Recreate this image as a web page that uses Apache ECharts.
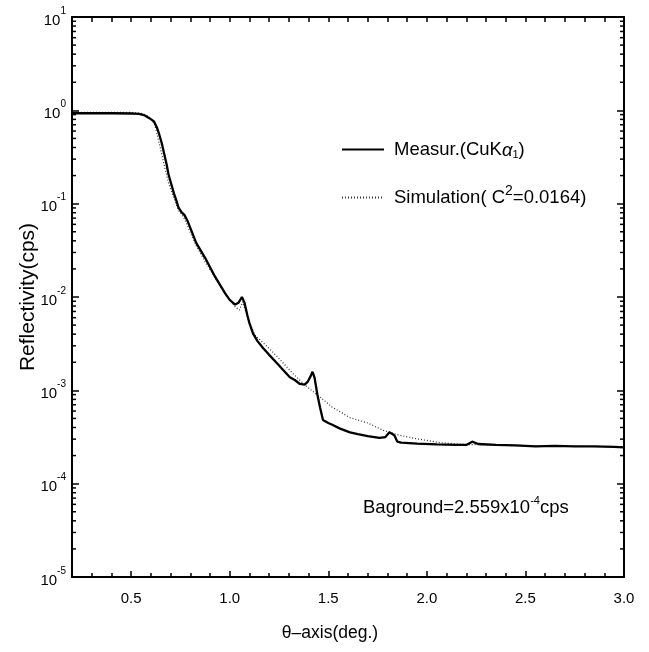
<!DOCTYPE html>
<html>
<head>
<meta charset="utf-8">
<script src="https://cdn.jsdelivr.net/npm/echarts@6/dist/echarts.min.js"></script>
<style>html,body{margin:0;padding:0;background:#fff}#c{width:649px;height:652px}</style>
</head>
<body>
<div id="c"></div>
<script>
// ---- data ----
const thetaMeas = [0.20,0.30,0.40,0.50,0.54,0.565,0.59,0.605,0.616,0.63,0.64,0.655,0.667,0.68,0.69,0.705,0.717,0.73,0.74,0.755,0.77,0.785,0.80,0.83,0.875,0.925,0.976,1.00,1.027,1.045,1.062,1.075,1.09,1.10,1.118,1.14,1.17,1.20,1.24,1.27,1.305,1.33,1.356,1.38,1.395,1.41,1.42,1.43,1.445,1.458,1.473,1.50,1.52,1.56,1.61,1.65,1.70,1.76,1.79,1.81,1.82,1.835,1.85,1.87,1.95,2.05,2.15,2.20,2.23,2.26,2.35,2.45,2.55,2.65,2.75,2.85,2.95,3.00];
const reflMeas = [0.93,0.93,0.93,0.925,0.915,0.89,0.83,0.79,0.76,0.66,0.575,0.447,0.347,0.263,0.204,0.158,0.129,0.107,0.0912,0.0813,0.0759,0.0661,0.055,0.038,0.0263,0.0166,0.011,0.0093,0.0083,0.0087,0.0100,0.0087,0.0063,0.00525,0.00407,0.00339,0.00282,0.0024,0.00195,0.00166,0.00138,0.00129,0.00117,0.00115,0.00123,0.00141,0.00158,0.00138,0.00089,0.00066,0.00048,0.000447,0.000427,0.000389,0.000355,0.000339,0.000324,0.000309,0.000316,0.000355,0.000372,0.000331,0.000282,0.000275,0.000269,0.000263,0.00026,0.00026,0.000282,0.000266,0.00026,0.000257,0.000251,0.000254,0.000251,0.000251,0.000248,0.000245];

const thetaSim = [0.20,0.30,0.40,0.50,0.55,0.58,0.60,0.62,0.635,0.65,0.667,0.69,0.72,0.74,0.755,0.77,0.80,0.83,0.875,0.93,0.98,1.03,1.05,1.065,1.08,1.10,1.128,1.19,1.255,1.32,1.39,1.458,1.52,1.61,1.70,1.78,1.86,1.95,2.07,2.20,2.50,3.00];
const reflSim = [0.95,0.95,0.95,0.95,0.93,0.88,0.82,0.70,0.52,0.38,0.263,0.166,0.11,0.085,0.0776,0.069,0.049,0.0355,0.024,0.0155,0.0107,0.00776,0.00724,0.0089,0.0071,0.0054,0.0039,0.00295,0.00214,0.00151,0.0011,0.00085,0.00066,0.00051,0.000447,0.000372,0.000331,0.000302,0.000275,0.000263,0.000254,0.000248];

const xMajorTicks = [0.5,1.0,1.5,2.0,2.5,3.0];
const xMinorTicks = [0.3,0.4,0.6,0.7,0.8,0.9,1.1,1.2,1.3,1.4,1.6,1.7,1.8,1.9,2.1,2.2,2.3,2.4,2.6,2.7,2.8,2.9];
const xTopTicks = [0.3,0.4,0.5,0.6,0.7,0.8,0.9,1.0,1.1,1.2,1.3,1.4,1.5,1.6,1.7,1.8,1.9,2.0,2.1,2.2,2.3,2.4,2.5,2.6,2.7,2.8,2.9];
const yDecades = [1e-5,1e-4,1e-3,1e-2,1e-1,1,10];
const yMinorMantissa = [2,3,4,5,6,7,8,9];

const X_MIN = 0.2, X_MAX = 3.0;
const FONT = '"Liberation Sans",Arial,sans-serif';

const yMinorTicks = [];
for (let i = 0; i < yDecades.length - 1; i++) {
  yMinorMantissa.forEach(m => yMinorTicks.push(m * yDecades[i]));
}

const names = { meas: 'Measur.(CuKα1)', sim: 'Simulation( C2=0.0164)' };
const legendRich = {};
legendRich[names.meas] = 'Measur.(CuK{it|α}{sub|1})';
legendRich[names.sim] = 'Simulation( C{sup|2}=0.0164)';

const chart = echarts.init(document.getElementById('c'), null, {renderer: 'canvas'});

const xBase = {
  type: 'value', min: X_MIN, max: X_MAX, gridIndex: 0,
  splitLine: {show: false},
  axisLine: {onZero: false, lineStyle: {color: '#000', width: 2}}
};

chart.setOption({
  animation: false,
  backgroundColor: '#fff',
  grid: {left: 72, right: 25, top: 17, bottom: 75, containLabel: false},
  legend: {
    left: 341, top: 140, orient: 'vertical', padding: 0,
    itemWidth: 42, itemHeight: 14, itemGap: 24,
    itemStyle: {opacity: 0},
    data: [names.meas, names.sim],
    formatter: n => legendRich[n],
    textStyle: {
      fontFamily: FONT, fontSize: 18.5, color: '#000', padding: [0, 0, 0, 5],
      rich: {
        it: {fontFamily: FONT, fontSize: 18.5, fontStyle: 'italic', color: '#000', verticalAlign: 'bottom', lineHeight: 22},
        sub: {fontFamily: FONT, fontSize: 11, color: '#000', verticalAlign: 'bottom', lineHeight: 18},
        sup: {fontFamily: FONT, fontSize: 14, color: '#000', verticalAlign: 'top', lineHeight: 26}
      }
    }
  },
  xAxis: [
    Object.assign({}, xBase, {
      position: 'bottom',
      name: 'θ–axis(deg.)', nameLocation: 'middle', nameGap: 47, nameMoveOverlap: false,
      nameTextStyle: {fontFamily: FONT, fontSize: 17.5, color: '#000', padding: [0, 36, 0, 0]},
      axisTick: {inside: true, length: 6, customValues: xMajorTicks, lineStyle: {color: '#000', width: 1.5}},
      axisLabel: {customValues: xMajorTicks, margin: 14, fontFamily: FONT, fontSize: 15, color: '#000',
                  formatter: v => v.toFixed(1)}
    }),
    Object.assign({}, xBase, {
      position: 'bottom',
      axisLine: {show: false, onZero: false},
      axisTick: {inside: true, length: 4, customValues: xMinorTicks, lineStyle: {color: '#000', width: 1.5}},
      axisLabel: {show: false}
    }),
    Object.assign({}, xBase, {
      position: 'top',
      axisTick: {inside: true, length: 5, customValues: xTopTicks, lineStyle: {color: '#000', width: 1.5}},
      axisLabel: {show: false}
    })
  ],
  yAxis: [
    {
      type: 'log', logBase: 10, min: 1e-5, max: 10, interval: 1, position: 'left',
      name: 'Reflectivity(cps)', nameLocation: 'middle', nameGap: 33, nameRotate: 90, nameMoveOverlap: false,
      nameTextStyle: {fontFamily: FONT, fontSize: 21, color: '#000'},
      splitLine: {show: false},
      axisLine: {onZero: false, lineStyle: {color: '#000', width: 2}},
      axisTick: {inside: true, length: 7, lineStyle: {color: '#000', width: 1.5}},
      axisLabel: {
        margin: 6, color: '#000',
        formatter: v => '{b|10}{s|' + Math.round(Math.log10(v)) + '}',
        rich: {
          b: {fontFamily: FONT, fontSize: 15, color: '#000', verticalAlign: 'bottom', lineHeight: 22},
          s: {fontFamily: FONT, fontSize: 10, color: '#000', verticalAlign: 'top', lineHeight: 22}
        }
      }
    },
    {
      type: 'log', logBase: 10, min: 1e-5, max: 10, interval: 1, position: 'right',
      splitLine: {show: false},
      axisLine: {onZero: false, lineStyle: {color: '#000', width: 2}},
      axisTick: {inside: true, length: 7, lineStyle: {color: '#000', width: 1.5}},
      axisLabel: {show: false}
    }
  ],
  graphic: [{
    type: 'text', left: 363, top: 495,
    style: {
      text: 'Baground=2.559x10{s|-4}cps',
      font: '18.5px ' + FONT, fill: '#000',
      rich: {s: {fontFamily: FONT, fontSize: 11, fill: '#000', verticalAlign: 'top', lineHeight: 26}}
    }
  }],
  series: [
    {
      name: names.sim, type: 'line', xAxisIndex: 0, yAxisIndex: 0,
      data: thetaSim.map((t, i) => [t, reflSim[i]]),
      showSymbol: false, symbol: 'none', silent: true,
      lineStyle: {color: '#333', width: 1.2, type: [1, 2]}, itemStyle: {color: '#333'}
    },
    {
      name: names.meas, type: 'line', xAxisIndex: 0, yAxisIndex: 0,
      data: thetaMeas.map((t, i) => [t, reflMeas[i]]),
      showSymbol: false, symbol: 'none', silent: true,
      lineStyle: {color: '#000', width: 2.3}, itemStyle: {color: '#000'}
    },
    {
      type: 'custom', xAxisIndex: 0, yAxisIndex: 0, silent: true, clip: false,
      data: yMinorTicks.map(v => [X_MIN, v]),
      renderItem: (params, api) => {
        const v = api.value(1);
        const p = api.coord([X_MIN, v]);
        const q = api.coord([X_MAX, v]);
        const st = {stroke: '#000', lineWidth: 1.5};
        return {type: 'group', children: [
          {type: 'line', shape: {x1: p[0], y1: p[1], x2: p[0] + 4, y2: p[1]}, style: st},
          {type: 'line', shape: {x1: q[0] - 4, y1: q[1], x2: q[0], y2: q[1]}, style: st}
        ]};
      }
    }
  ]
});
</script>
</body>
</html>
